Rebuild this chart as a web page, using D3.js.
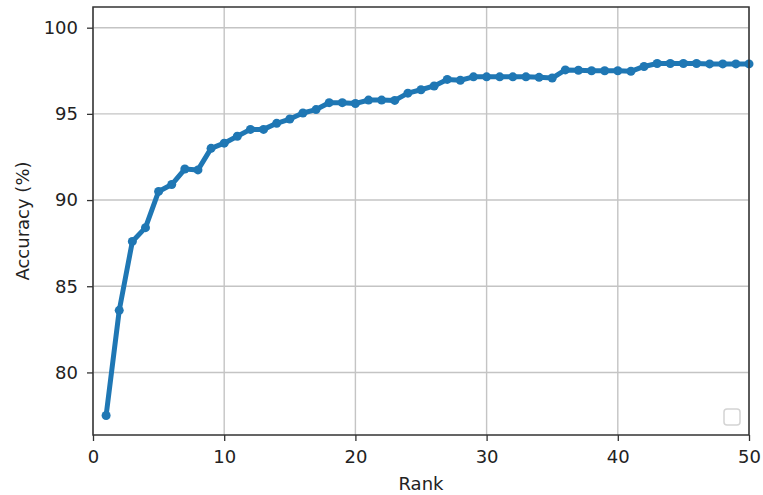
<!DOCTYPE html>
<html>
<head>
<meta charset="utf-8">
<script src="https://cdn.jsdelivr.net/npm/d3@7"></script>
<style>
  html, body { margin: 0; padding: 0; background: #fff; }
  text { font-family: "DejaVu Sans", sans-serif; fill: #222; }
</style>
</head>
<body>
<div id="chart"></div>
<script>
// rank 1..50
const ranks = d3.range(1, 51);
const accuracy = [
  77.5, 83.6, 87.6, 88.4, 90.5, 90.9, 91.8, 91.75, 93.0, 93.3,
  93.7, 94.1, 94.1, 94.45, 94.7, 95.05, 95.25, 95.65, 95.65, 95.6,
  95.8, 95.8, 95.78, 96.2, 96.4, 96.62, 97.0, 96.95, 97.15, 97.15,
  97.15, 97.15, 97.15, 97.12, 97.08, 97.55, 97.53, 97.5, 97.5, 97.5,
  97.47, 97.75, 97.92, 97.92, 97.92, 97.92, 97.9, 97.9, 97.9, 97.9
];
const xTicks = [0, 10, 20, 30, 40, 50];
const yTicks = [80, 85, 90, 95, 100];

const width = 763, height = 495;
const margin = { top: 7, right: 14, bottom: 60, left: 93 };

const svg = d3.select('#chart')
  .append('svg')
  .attr('width', width)
  .attr('height', height);

const x = d3.scaleLinear()
  .domain([0, 50])
  .range([margin.left, width - margin.right]);

const y = d3.scaleLinear()
  .domain([76.37, 101.2])
  .range([height - margin.bottom, margin.top]);

// grid
const grid = svg.append('g')
  .attr('stroke', '#c4c4c4')
  .attr('stroke-width', 1.4);

grid.selectAll('line.gx')
  .data(xTicks)
  .join('line')
  .attr('x1', d => x(d)).attr('x2', d => x(d))
  .attr('y1', margin.top).attr('y2', height - margin.bottom);

grid.selectAll('line.gy')
  .data(yTicks)
  .join('line')
  .attr('x1', margin.left).attr('x2', width - margin.right)
  .attr('y1', d => y(d)).attr('y2', d => y(d));

// line + markers
const points = ranks.map((r, i) => [r, accuracy[i]]);

svg.append('path')
  .datum(points)
  .attr('fill', 'none')
  .attr('stroke', '#1f77b4')
  .attr('stroke-width', 5)
  .attr('stroke-linejoin', 'round')
  .attr('d', d3.line().x(d => x(d[0])).y(d => y(d[1])));

svg.append('g')
  .attr('fill', '#1f77b4')
  .selectAll('circle')
  .data(points)
  .join('circle')
  .attr('cx', d => x(d[0]))
  .attr('cy', d => y(d[1]))
  .attr('r', 4.5);

// frame
svg.append('rect')
  .attr('x', margin.left)
  .attr('y', margin.top)
  .attr('width', width - margin.left - margin.right)
  .attr('height', height - margin.top - margin.bottom)
  .attr('fill', 'none')
  .attr('stroke', '#333')
  .attr('stroke-width', 1.5);

// axes
const xAxis = svg.append('g')
  .attr('transform', `translate(0,${height - margin.bottom})`)
  .call(d3.axisBottom(x).tickValues(xTicks).tickSize(6).tickPadding(9));

const yAxis = svg.append('g')
  .attr('transform', `translate(${margin.left},0)`)
  .call(d3.axisLeft(y).tickValues(yTicks).tickSize(6).tickPadding(9));

[xAxis, yAxis].forEach(a => {
  a.select('.domain').remove();
  a.selectAll('.tick line').attr('stroke', '#333').attr('stroke-width', 1.3);
  a.selectAll('.tick text')
    .style('font-family', '"DejaVu Sans", sans-serif')
    .style('font-size', '18px')
    .attr('fill', '#222');
});

// axis labels
svg.append('text')
  .attr('x', (margin.left + width - margin.right) / 2)
  .attr('y', 490)
  .attr('text-anchor', 'middle')
  .style('font-size', '18px')
  .text('Rank');

svg.append('text')
  .attr('transform', `translate(29,${(margin.top + height - margin.bottom) / 2}) rotate(-90)`)
  .attr('text-anchor', 'middle')
  .style('font-size', '18px')
  .text('Accuracy (%)');

// empty legend box
svg.append('rect')
  .attr('x', 724)
  .attr('y', 409)
  .attr('width', 16)
  .attr('height', 16)
  .attr('rx', 3)
  .attr('fill', '#fff')
  .attr('stroke', '#d4d4d4')
  .attr('stroke-width', 1.5);
</script>
</body>
</html>
